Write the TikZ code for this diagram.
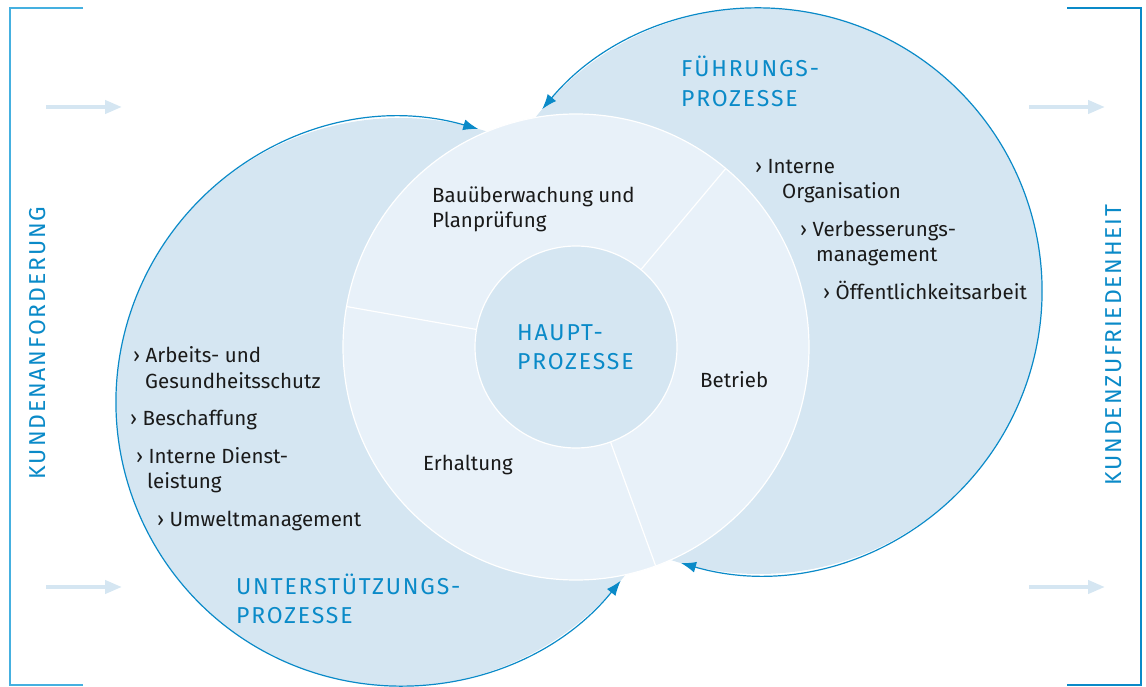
\documentclass[tikz,border=0pt]{standalone}
\usepackage{fontspec}
\setmainfont{Fira Sans}
\newfontfamily\sperrschrift[LetterSpace=8]{Fira Sans}
\usetikzlibrary{arrows.meta}

\definecolor{prozessblau}{HTML}{0A8AC8}
\definecolor{rahmenhell}{HTML}{45B0E0}
\definecolor{flaeche}{HTML}{D5E6F2}
\definecolor{ringfarbe}{HTML}{E8F1F9}
\definecolor{schrift}{HTML}{1A1A1A}

\tikzset{
  scheibe/.style={circle, fill=flaeche, inner sep=0pt, outer sep=0pt},
  kreislauf/.style={draw=prozessblau, line width=1.2pt,
    {Latex[length=15pt,width=11pt]}-{Latex[length=15pt,width=11pt]}},
  hinweis/.style={draw=flaeche, line width=4pt, -{Triangle[length=17pt,width=13pt]}},
  titel/.style={anchor=base west, inner sep=0pt, text=prozessblau,
    font=\sperrschrift\fontsize{23}{23}\selectfont},
  seite/.style={inner sep=0pt, text=prozessblau, rotate=90,
    font=\sperrschrift\fontsize{23}{23}\selectfont},
  eintrag/.style={anchor=base west, inner sep=0pt, text=schrift,
    font=\fontsize{20.5}{20.5}\selectfont},
}

\begin{document}
\begin{tikzpicture}[x=1pt,y=1pt]
  \useasboundingbox (0,0) rectangle (1146,686);

  % seitliche Klammern
  \draw[rahmenhell, line width=2pt] (83,678) -- (10,678) -- (10,1) -- (83,1);
  \draw[prozessblau, line width=2pt] (1067,678) -- (1141,678) -- (1141,1) -- (1067,1);

  % Pfeile links und rechts
  \coordinate (ein1) at (46,579);  \coordinate (ein1e) at (122,579);
  \coordinate (ein2) at (46,99);   \coordinate (ein2e) at (122,99);
  \coordinate (aus1) at (1029,579); \coordinate (aus1e) at (1105,579);
  \coordinate (aus2) at (1029,99);  \coordinate (aus2e) at (1105,99);
  \draw[hinweis] (ein1) -- (ein1e);
  \draw[hinweis] (ein2) -- (ein2e);
  \draw[hinweis] (aus1) -- (aus1e);
  \draw[hinweis] (aus2) -- (aus2e);

  \node[seite] (anforderung) at (38,343) {KUNDENANFORDERUNG};
  \node[seite] (zufriedenheit) at (1114,341) {KUNDENZUFRIEDENHEIT};

  % grosse Kreise
  \node[scheibe, minimum size=568pt] (unterst) at (400,284) {};
  \node[scheibe, minimum size=566pt] (fuehrung) at (759,395) {};

  % Ring mit drei Segmenten und Kern
  \node[scheibe, fill=ringfarbe, draw=white, line width=1.2pt, minimum size=466pt] (ring) at (576,339) {};
  \foreach \w in {50,170,290}
    \draw[white, line width=1.2pt] (576,339) -- (ring.\w);
  \node[scheibe, draw=white, line width=1.2pt, minimum size=202pt] (haupt) at (576,339) {};

  % Kreislaeufe
  \draw[kreislauf] (unterst.74) arc[start angle=74, end angle=321, radius=284pt];
  \draw[kreislauf] (fuehrung.-106) arc[start angle=-106, end angle=140, radius=283pt];

  % Ueberschriften
  \node[titel] (f1) at (681,609) {FÜHRUNGS-};
  \node[titel] (f2) at (681,579) {PROZESSE};
  \node[titel] (h1) at (517,345) {HAUPT-};
  \node[titel] (h2) at (517,316) {PROZESSE};
  \node[titel] (u1) at (236,92) {UNTERSTÜTZUNGS-};
  \node[titel] (u2) at (236,63) {PROZESSE};

  % Ring
  \node[eintrag] (bau1) at (432,483) {Bauüberwachung und};
  \node[eintrag] (bau2) at (432,458) {Planprüfung};
  \node[eintrag] (betrieb) at (700,298) {Betrieb};
  \node[eintrag] (erhaltung) at (423,215) {Erhaltung};

  % Fuehrungsprozesse
  \node[eintrag] (r1) at (755,512) {› Interne};
  \node[eintrag] (r2) at (782,487) {Organisation};
  \node[eintrag] (r3) at (800,449) {› Verbesserungs-};
  \node[eintrag] (r4) at (816,424) {management};
  \node[eintrag] (r5) at (823,386) {› Öffentlichkeitsarbeit};

  % Unterstuetzungsprozesse
  \node[eintrag] (l1) at (133,323) {› Arbeits- und};
  \node[eintrag] (l2) at (145,297) {Gesundheitsschutz};
  \node[eintrag] (l3) at (130,260) {› Beschaffung};
  \node[eintrag] (l4) at (136,222) {› Interne Dienst-};
  \node[eintrag] (l5) at (147,197) {leistung};
  \node[eintrag] (l6) at (157,160) {› Umweltmanagement};
\end{tikzpicture}
\end{document}
